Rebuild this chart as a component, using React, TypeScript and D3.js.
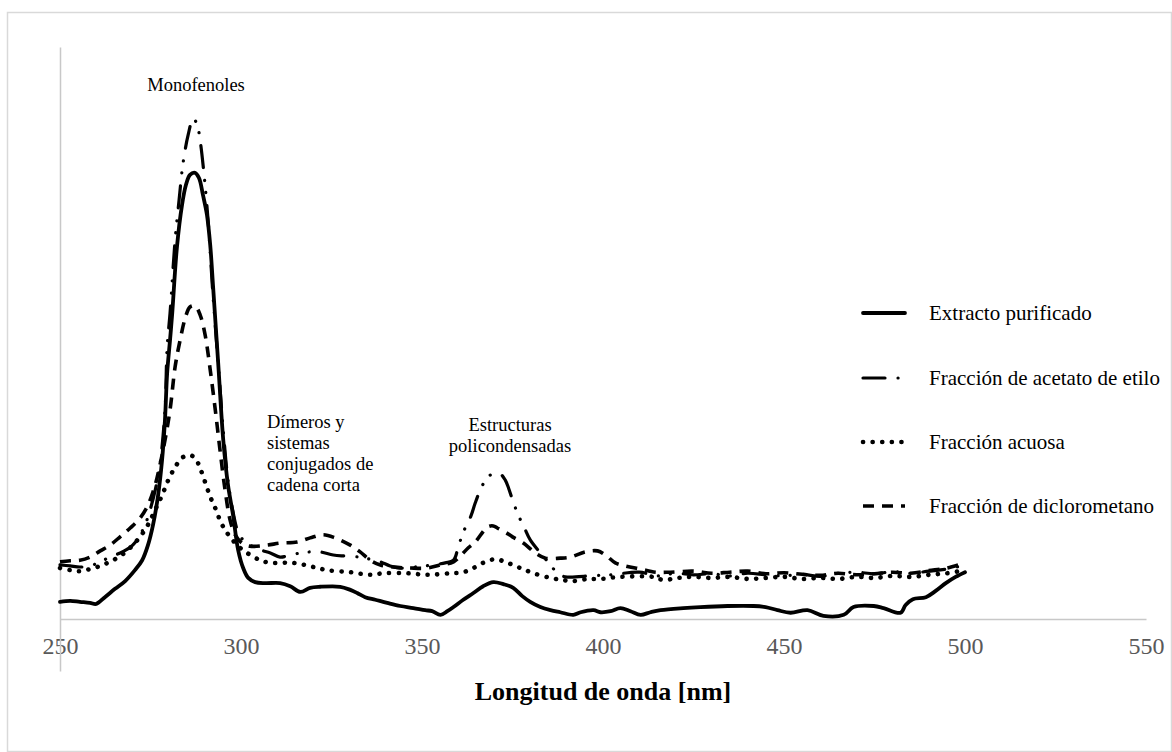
import React, { useEffect, useRef } from "react";
import * as d3 from "d3";

// UV-Vis absorption spectra: [wavelength (nm), absorbance (a.u.)]
const extractoPurificado: [number, number][] = [
  [250.0, 0.033], [252.8, 0.035], [255.5, 0.033], [258.3, 0.031], [260.0, 0.029],
  [262.4, 0.042], [265.2, 0.058], [268.0, 0.073], [270.7, 0.094], [272.7, 0.113],
  [274.3, 0.142], [275.7, 0.181], [277.1, 0.238], [278.2, 0.306], [279.0, 0.383],
  [279.6, 0.473], [280.4, 0.537], [281.0, 0.588], [282.3, 0.715], [283.7, 0.796],
  [284.8, 0.835], [285.9, 0.854], [287.3, 0.858], [288.4, 0.848], [289.5, 0.815],
  [290.6, 0.777], [291.5, 0.719], [292.3, 0.638], [293.7, 0.492], [295.1, 0.344],
  [296.4, 0.258], [297.8, 0.2], [299.2, 0.133], [300.6, 0.098], [302.0, 0.079],
  [303.9, 0.071], [306.7, 0.069], [310.8, 0.069], [313.6, 0.063], [316.4, 0.052],
  [319.1, 0.06], [321.9, 0.062], [327.4, 0.062], [330.2, 0.056], [332.1, 0.05],
  [334.3, 0.042], [337.1, 0.037], [340.4, 0.031], [344.0, 0.025], [347.6, 0.021],
  [350.9, 0.017], [352.8, 0.015], [355.1, 0.008], [357.0, 0.015], [358.7, 0.023],
  [361.4, 0.037], [364.2, 0.05], [366.9, 0.063], [369.7, 0.071], [372.5, 0.067],
  [375.2, 0.06], [377.7, 0.044], [379.9, 0.033], [382.7, 0.023], [385.5, 0.017],
  [388.2, 0.013], [391.8, 0.008], [393.8, 0.013], [397.4, 0.017], [399.3, 0.013],
  [402.1, 0.015], [404.8, 0.021], [407.6, 0.015], [410.4, 0.008], [413.1, 0.013],
  [415.9, 0.017], [422.2, 0.021], [426.9, 0.023], [434.4, 0.025], [441.6, 0.025],
  [444.9, 0.023], [448.2, 0.017], [451.8, 0.012], [456.5, 0.017], [460.9, 0.006],
  [466.5, 0.008], [469.2, 0.023], [474.8, 0.025], [477.5, 0.021], [482.2, 0.012],
  [483.6, 0.027], [485.6, 0.038], [489.2, 0.042], [491.9, 0.054], [494.7, 0.069],
  [497.4, 0.081], [500.0, 0.09],
];

const fraccionAcetato: [number, number][] = [
  [250.0, 0.104], [252.8, 0.102], [255.5, 0.1], [258.3, 0.102], [261.1, 0.11],
  [263.8, 0.119], [266.6, 0.127], [269.4, 0.138], [271.3, 0.152], [273.5, 0.181],
  [274.9, 0.21], [276.3, 0.248], [277.6, 0.296], [279.0, 0.402], [279.6, 0.523],
  [280.4, 0.588], [281.8, 0.729], [282.9, 0.806], [284.0, 0.877], [285.4, 0.931],
  [286.8, 0.963], [287.9, 0.95], [288.7, 0.921], [289.8, 0.854], [290.9, 0.767],
  [292.3, 0.619], [293.7, 0.492], [295.1, 0.363], [296.4, 0.267], [297.8, 0.206],
  [299.2, 0.167], [300.6, 0.152], [302.5, 0.142], [305.3, 0.133], [308.1, 0.127],
  [310.8, 0.119], [313.6, 0.123], [316.4, 0.127], [319.1, 0.129], [321.9, 0.129],
  [325.5, 0.123], [328.8, 0.121], [332.9, 0.119], [335.7, 0.115], [338.5, 0.11],
  [341.2, 0.102], [344.0, 0.098], [348.1, 0.1], [353.1, 0.104], [356.4, 0.108],
  [358.7, 0.113], [360.0, 0.138], [361.4, 0.167], [363.4, 0.196], [364.7, 0.223],
  [366.1, 0.248], [368.1, 0.273], [369.7, 0.279], [371.6, 0.279], [373.0, 0.267],
  [373.9, 0.252], [375.2, 0.225], [376.6, 0.2], [378.3, 0.175], [379.9, 0.152],
  [382.7, 0.127], [385.5, 0.104], [387.4, 0.088], [389.6, 0.081], [392.4, 0.081],
  [396.5, 0.083], [402.1, 0.085], [410.0, 0.09], [415.0, 0.083], [420.0, 0.088],
  [425.0, 0.085], [430.0, 0.087], [435.0, 0.083], [440.0, 0.088], [445.0, 0.085],
  [450.0, 0.083], [455.0, 0.086], [460.0, 0.082], [465.0, 0.088], [470.0, 0.09],
  [475.0, 0.087], [480.0, 0.091], [485.0, 0.088], [490.0, 0.092], [495.0, 0.096],
  [500.0, 0.104],
];

const fraccionAcuosa: [number, number][] = [
  [250.0, 0.098], [252.8, 0.094], [255.5, 0.092], [258.3, 0.096], [261.1, 0.102],
  [263.8, 0.11], [266.6, 0.121], [269.4, 0.137], [272.1, 0.158], [274.3, 0.181],
  [276.3, 0.21], [278.2, 0.238], [279.9, 0.267], [281.8, 0.292], [283.7, 0.31],
  [285.7, 0.315], [287.3, 0.31], [288.7, 0.29], [290.1, 0.263], [291.5, 0.235],
  [292.9, 0.213], [294.2, 0.19], [295.6, 0.171], [297.0, 0.158], [299.2, 0.14],
  [301.7, 0.127], [305.3, 0.113], [308.1, 0.108], [314.4, 0.108], [320.0, 0.1],
  [323.8, 0.094], [330.2, 0.09], [335.7, 0.085], [339.3, 0.088], [345.9, 0.088],
  [351.5, 0.085], [357.8, 0.088], [361.4, 0.09], [364.2, 0.098], [366.9, 0.108],
  [370.3, 0.115], [373.6, 0.108], [377.2, 0.098], [380.8, 0.088], [385.5, 0.079],
  [388.8, 0.075], [391.8, 0.073], [395.7, 0.077], [399.3, 0.077], [404.8, 0.081],
  [413.9, 0.081], [416.7, 0.075], [420.6, 0.079], [425.0, 0.081], [430.0, 0.079],
  [435.0, 0.081], [440.0, 0.077], [445.0, 0.079], [450.0, 0.081], [455.0, 0.077],
  [460.0, 0.079], [465.0, 0.077], [470.0, 0.081], [475.0, 0.079], [480.0, 0.083],
  [485.0, 0.081], [490.0, 0.085], [495.0, 0.088], [500.0, 0.094],
];

const fraccionDiclorometano: [number, number][] = [
  [250.0, 0.11], [252.8, 0.112], [255.5, 0.113], [258.3, 0.119], [261.1, 0.131],
  [263.8, 0.142], [266.6, 0.158], [269.4, 0.175], [272.1, 0.194], [274.3, 0.219],
  [276.3, 0.258], [277.6, 0.296], [279.0, 0.344], [280.4, 0.402], [281.8, 0.485],
  [283.2, 0.537], [284.6, 0.579], [285.9, 0.6], [287.3, 0.602], [288.7, 0.585],
  [290.1, 0.546], [291.5, 0.479], [292.9, 0.402], [294.2, 0.325], [295.6, 0.248],
  [297.0, 0.19], [298.4, 0.162], [300.3, 0.146], [302.5, 0.14], [307.2, 0.142],
  [310.8, 0.146], [315.5, 0.148], [319.1, 0.156], [322.7, 0.162], [326.0, 0.156],
  [330.2, 0.142], [332.9, 0.129], [335.7, 0.113], [338.5, 0.104], [342.1, 0.1],
  [346.8, 0.098], [351.5, 0.098], [355.1, 0.104], [358.7, 0.11], [362.8, 0.137],
  [364.7, 0.148], [368.1, 0.177], [369.7, 0.179], [370.8, 0.175], [373.0, 0.167],
  [375.0, 0.158], [378.0, 0.146], [381.3, 0.127], [384.1, 0.117], [388.2, 0.117],
  [391.0, 0.119], [395.1, 0.129], [398.5, 0.131], [400.7, 0.123], [403.4, 0.108],
  [406.2, 0.102], [410.4, 0.096], [414.5, 0.09], [418.6, 0.09], [425.0, 0.092],
  [430.0, 0.088], [435.0, 0.09], [440.0, 0.092], [445.0, 0.087], [450.0, 0.089],
  [455.0, 0.086], [460.0, 0.084], [465.0, 0.088], [470.0, 0.085], [475.0, 0.087],
  [480.0, 0.09], [485.0, 0.088], [490.0, 0.093], [495.0, 0.098], [500.0, 0.108],
];

const seriesNames = [
  "Extracto purificado",
  "Fracción de acetato de etilo",
  "Fracción acuosa",
  "Fracción de diclorometano",
];

const xTickValues = [250, 300, 350, 400, 450, 500, 550];
const xTitle = "Longitud de onda [nm]";

const annotations = [
  { lines: ["Monofenoles"], x: 196, y: 91, anchor: "middle" },
  { lines: ["Dímeros y", "sistemas", "conjugados de", "cadena corta"], x: 267, y: 428, anchor: "start" },
  { lines: ["Estructuras", "policondensadas"], x: 510, y: 431, anchor: "middle" },
];

const FONT = "'Liberation Serif', 'Times New Roman', serif";

export default function App() {
  const ref = useRef<SVGSVGElement>(null);

  useEffect(() => {
    const svg = d3.select(ref.current);
    svg.selectAll("*").remove();

    const W = 1172;
    const H = 752;

    // chart frame
    svg
      .append("rect")
      .attr("x", 7.5)
      .attr("y", 12.5)
      .attr("width", W - 8)
      .attr("height", H - 13)
      .attr("fill", "#fff")
      .attr("stroke", "#d9d9d9")
      .attr("stroke-width", 1.5);

    const x = d3.scaleLinear().domain([250, 550]).range([60, 1146]);
    const y = d3.scaleLinear().domain([-0.1, 1.1]).range([671, 47]);

    // horizontal axis at zero absorbance
    const xAxis = d3
      .axisBottom(x)
      .tickValues(xTickValues)
      .tickSize(0)
      .tickSizeOuter(0)
      .tickPadding(18)
      .tickFormat(d3.format("d"));
    const gx = svg.append("g").attr("transform", `translate(0,${y(0)})`).call(xAxis);
    gx.select(".domain").attr("stroke", "#c8c8c8").attr("stroke-width", 1.5);
    gx.selectAll("text")
      .attr("font-family", FONT)
      .attr("font-size", 24)
      .attr("fill", "#595959");

    // vertical axis, no labels
    const yAxis = d3.axisLeft(y).tickValues([]).tickSizeOuter(0);
    const gy = svg.append("g").attr("transform", `translate(${x(250)},0)`).call(yAxis);
    gy.select(".domain").attr("stroke", "#c8c8c8").attr("stroke-width", 1.5);

    svg
      .append("text")
      .attr("x", 603)
      .attr("y", 700)
      .attr("text-anchor", "middle")
      .attr("font-family", FONT)
      .attr("font-weight", "bold")
      .attr("font-size", 26)
      .attr("fill", "#000")
      .text(xTitle);

    const styles = [
      { width: 3.8, dash: null as string | null, cap: "round" },
      { width: 3.2, dash: "22 13 0.1 12 0.1 13", cap: "round" },
      { width: 4.6, dash: "0.1 9.5", cap: "round" },
      { width: 3.6, dash: "11 8", cap: "butt" },
    ];
    const data = [extractoPurificado, fraccionAcetato, fraccionAcuosa, fraccionDiclorometano];

    const line = d3
      .line<[number, number]>()
      .x((d) => x(d[0]))
      .y((d) => y(d[1]))
      .curve(d3.curveCatmullRom.alpha(0.5));

    const order = [3, 2, 1, 0];
    order.forEach((i) => {
      const s = styles[i];
      const p = svg
        .append("path")
        .datum(data[i])
        .attr("d", line)
        .attr("fill", "none")
        .attr("stroke", "#000")
        .attr("stroke-width", s.width)
        .attr("stroke-linecap", s.cap)
        .attr("stroke-linejoin", "round");
      if (s.dash) p.attr("stroke-dasharray", s.dash);
    });

    // legend
    const legendY = [313, 378, 442, 506];
    seriesNames.forEach((name, i) => {
      const s = styles[i];
      const l = svg
        .append("line")
        .attr("x1", 863)
        .attr("x2", 905)
        .attr("y1", legendY[i])
        .attr("y2", legendY[i])
        .attr("stroke", "#000")
        .attr("stroke-width", s.width)
        .attr("stroke-linecap", s.cap);
      if (s.dash) l.attr("stroke-dasharray", s.dash);
      svg
        .append("text")
        .attr("x", 929)
        .attr("y", legendY[i] + 7)
        .attr("font-family", FONT)
        .attr("font-size", 21)
        .attr("fill", "#000")
        .text(name);
    });

    // peak annotations
    annotations.forEach((a) => {
      const t = svg
        .append("text")
        .attr("font-family", FONT)
        .attr("font-size", 18.5)
        .attr("fill", "#000")
        .attr("text-anchor", a.anchor);
      a.lines.forEach((ln, k) => {
        t.append("tspan").attr("x", a.x).attr("y", a.y + k * 21).text(ln);
      });
    });
  }, []);

  return (
    <svg
      ref={ref}
      width={1172}
      height={752}
      style={{ position: "absolute", left: 0, top: 0, background: "#fff" }}
    />
  );
}
